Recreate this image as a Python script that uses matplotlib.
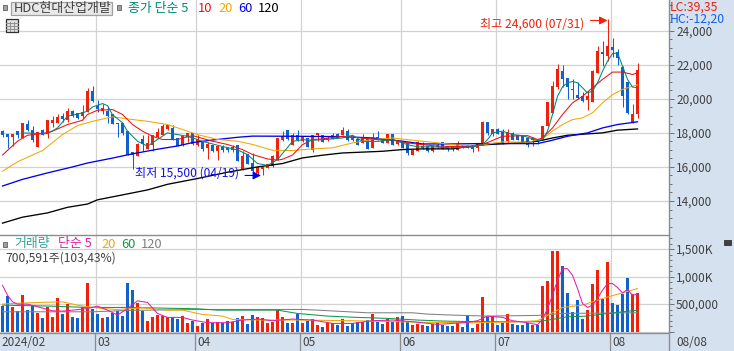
import matplotlib
matplotlib.use('Agg')
import matplotlib.pyplot as plt
from matplotlib.lines import Line2D
from matplotlib.patches import Rectangle
from matplotlib.ticker import MultipleLocator
import numpy as np

plt.rcParams['font.family'] = ['Noto Sans CJK KR', 'DejaVu Sans']

W, H = 734, 351

opens = [18060, 17900, 17750, 18060, 17690, 18470, 18150, 17160, 18150, 17960,
         18600, 18590, 18980, 18780, 19250, 19130, 19000, 19200, 20460, 19560,
         19300, 19250, 19110, 18580, 18530, 18060, 16870, 16630, 17610, 17060,
         17260, 17770, 17900, 18200, 18290, 17690, 17270, 17770, 17940, 17270,
         17450, 17120, 17260, 16910, 17140, 17100, 17000, 17260, 15890, 16710,
         16230, 15650, 15850, 15940, 16080, 16430, 17610, 18140, 17310, 17840,
         17510, 17700, 17000, 17900, 17860, 17570, 17650, 17920, 17900, 18100,
         17700, 17600, 17410, 17670, 17120, 17750, 17670, 17410, 17900, 17370,
         17470, 17370, 16730, 16960, 17120, 17180, 16920, 17260, 17410, 17180,
         17180, 17020, 17260, 17260, 17180, 17120, 17310, 18590, 17960, 18200,
         18000, 17510, 17940, 17840, 17800, 17650, 17610, 17570, 17610, 18390,
         19180, 20700, 21620, 21180, 20550, 20220, 20160, 19960, 19820, 21530,
         22740, 22510, 23000, 22700, 21820, 20940, 18590, 19120]
closes = [17900, 17750, 17900, 17900, 18580, 18150, 17570, 18040, 17900, 18720,
          18720, 18900, 18800, 19250, 19000, 18880, 19200, 20440, 19880, 19400,
          19440, 18970, 18500, 18500, 18000, 16730, 16730, 17350, 17320, 17400,
          17840, 18000, 18350, 18450, 17610, 17220, 17800, 17940, 17350, 17600,
          17060, 17340, 16930, 17200, 17000, 17000, 17120, 16340, 16640, 16180,
          15760, 15950, 16000, 16140, 16630, 17650, 17800, 17650, 17840, 17570,
          17760, 17180, 17840, 17960, 17470, 17700, 17840, 17700, 18160, 17600,
          17600, 17310, 17700, 17080, 17700, 17600, 17410, 17900, 17310, 17570,
          17120, 16820, 16960, 17410, 17180, 16920, 17220, 17180, 17060, 17080,
          17080, 17310, 17120, 17120, 17060, 17350, 18630, 18000, 18200, 17960,
          17370, 18000, 17610, 17610, 17450, 17310, 17700, 17450, 18390, 19800,
          20740, 21720, 21180, 20700, 20510, 20060, 19900, 20120, 21620, 22800,
          22660, 23060, 22860, 22370, 20160, 19140, 19080, 21670]
highs = [18140, 17940, 17940, 18100, 18600, 18740, 18430, 18040, 18200, 18720,
         18980, 19110, 19190, 19480, 19370, 19150, 19640, 20620, 20770, 19950,
         19680, 19560, 19110, 18580, 18600, 18060, 16870, 17410, 17900, 17900,
         17840, 18290, 18550, 18490, 18490, 17700, 17900, 18000, 18000, 17900,
         17550, 17450, 17300, 17260, 17260, 17160, 17260, 17300, 16930, 16730,
         16800, 16000, 16000, 16150, 16700, 17650, 18100, 18140, 18000, 18140,
         17840, 17720, 17840, 18000, 17900, 17800, 18000, 18000, 18330, 18200,
         17900, 17620, 17960, 17700, 18000, 18100, 17700, 17930, 17910, 17610,
         17480, 17380, 17000, 17500, 17470, 17200, 17310, 17410, 17420, 17220,
         17220, 17510, 17310, 17300, 17200, 17400, 18720, 18600, 18210, 18290,
         18200, 18250, 18050, 17860, 17820, 17660, 17740, 17590, 18400, 19800,
         21040, 22020, 21960, 21200, 21140, 21000, 20390, 20450, 21720, 23100,
         23390, 24660, 23550, 22900, 21900, 20960, 19670, 22120]
lows = [17770, 17120, 17220, 17670, 17690, 18100, 17450, 17160, 17880, 17690,
        18330, 18590, 18620, 18620, 18950, 18790, 18900, 19200, 19820, 19250,
        19100, 18600, 18500, 17750, 17900, 16730, 15900, 16630, 16960, 17030,
        16960, 17700, 17900, 18180, 17610, 17220, 17220, 17450, 17300, 17220,
        16960, 16440, 16900, 16380, 16870, 16870, 16900, 16340, 15800, 16150,
        15650, 15500, 15520, 15920, 16000, 16430, 17500, 17600, 17310, 17500,
        17480, 17180, 16900, 17500, 17440, 17500, 17620, 17680, 17880, 17500,
        17500, 17290, 17400, 17060, 17100, 17580, 17390, 17390, 17300, 17310,
        17100, 16690, 16700, 16950, 17060, 16900, 16900, 17120, 17040, 16920,
        16950, 17000, 17100, 17100, 16900, 16920, 17300, 17900, 17800, 17950,
        17350, 17410, 17600, 17600, 17440, 17160, 17220, 17370, 17600, 18380,
        19180, 20590, 20700, 20000, 20000, 20000, 19800, 19370, 19800, 21500,
        21900, 22200, 22470, 22000, 19510, 19120, 18590, 18880]
volumes = [463, 644, 445, 373, 662, 391, 463, 337, 247, 445,
           265, 608, 319, 500, 265, 247, 440, 879, 409, 319,
           247, 265, 337, 373, 283, 879, 752, 518, 373, 193,
           265, 301, 289, 259, 271, 229, 283, 157, 193, 102,
           157, 229, 157, 175, 157, 193, 169, 241, 283, 138,
           301, 259, 241, 163, 181, 391, 259, 157, 157, 319,
           157, 199, 229, 120, 84, 150, 150, 114, 229, 102,
           150, 175, 169, 211, 319, 169, 138, 229, 169, 259,
           283, 181, 120, 138, 120, 102, 138, 169, 120, 102,
           102, 150, 90, 283, 72, 138, 632, 271, 271, 120,
           163, 319, 138, 120, 120, 163, 120, 120, 825, 915,
           1457, 1457, 1186, 704, 349, 572, 229, 391, 861, 1114,
           602, 1258, 518, 482, 692, 969, 680, 700.591]

ma5_x = [4, 9, 11, 13, 15, 17, 18, 20, 21, 22, 24, 25, 27, 29, 31, 33, 35, 37, 40, 44, 47, 49, 51, 53, 55,
         58, 60, 62, 64, 66, 68, 70, 72, 75, 78, 81, 83, 86, 90, 94, 96, 97, 98, 100, 102, 104, 107, 108,
         109, 110, 111, 112, 113, 114, 115, 116, 117, 118, 119, 120, 121, 122, 123, 124, 125, 126, 127]
ma5_y = [18000, 17950, 18290, 18980, 19100, 19270, 19520, 19720, 19600, 19070, 18590, 18100, 17510, 17220,
         17610, 18000, 17900, 17800, 17500, 17200, 17000, 16730, 16200, 16090, 16430,
         17500, 17600, 17570, 17600, 17650, 17700, 17860, 17500, 17500, 17600, 17310, 17180, 17180, 17120,
         17180, 17310, 17600, 18000, 18100, 17900, 17840, 17550, 17600,
         18100, 19080, 20150, 20700, 20940, 21020, 20940, 20650, 20350, 20450, 20940, 21620, 22210, 22650,
         22700, 21920, 21140, 20690, 20650]
ma10_x = [0, 3, 5, 8, 10, 13, 16, 17, 19, 22, 24, 26, 28, 30, 32, 35, 38, 42, 45, 48, 50, 53, 55, 56, 58,
          60, 62, 64, 68, 72, 75, 78, 81, 84, 87, 94, 96, 100, 105, 107, 108, 110, 112, 114, 116, 118, 120,
          122, 124, 126, 127]
ma10_y = [16700, 17510, 17860, 17960, 18100, 18490, 18740, 19080, 19330, 19370, 19080, 18490, 18100, 17800,
          17610, 17610, 17840, 17510, 17320, 17020, 16730, 16470, 16400, 16450, 16700,
          17310, 17600, 17650, 17800, 17700, 17600, 17600, 17410, 17310, 17220, 17180, 17310, 17800, 17840,
          17610, 17700, 18290, 19080, 19760, 20150, 20650, 21140, 21570, 21570, 21430, 21530]
ma20_x = [0, 3, 6, 8, 12, 15, 18, 22, 25, 29, 33, 36, 39, 43, 47, 50, 54, 58, 62, 66, 70, 74, 78, 82, 86,
          90, 94, 100, 105, 108, 110, 112, 114, 116, 118, 120, 122, 124, 126, 127]
ma20_y = [15750, 16300, 16700, 16960, 17900, 18430, 18680, 18940, 18820, 18680, 18490, 18200, 17900, 17610,
          17510, 17320, 16980, 16960, 17060, 17120, 17410, 17610, 17700, 17570, 17450, 17310, 17220, 17470,
          17450, 17650, 18100, 18490, 18780, 18880, 19180, 19760, 20250, 20550, 20740, 20820]
ma60_x = [0, 4, 9, 14, 17, 22, 26, 31, 35, 38, 42, 47, 50, 59, 68, 74, 80, 84, 90, 95, 103, 107, 110, 113, 117,
          120, 123, 127]
ma60_y = [14880, 15270, 15650, 16000, 16230, 16520, 16770, 17040, 17230, 17430, 17580, 17740, 17810, 17800,
          17780, 17700, 17510, 17350, 17350, 17370, 17370, 17370, 17570, 17800, 18000, 18290, 18490, 18650]
ma120_x = [0, 4, 9, 13, 17, 19, 23, 29, 33, 39, 45, 51, 56, 60, 64, 68, 76, 80, 84, 90, 95, 103, 107, 110, 113,
           117, 120, 123, 127]
ma120_y = [12700, 13050, 13300, 13630, 13820, 14070, 14300, 14650, 14980, 15320, 15690, 16000, 16200, 16530,
           16690, 16820, 16920, 17020, 17060, 17060, 17280, 17410, 17510, 17700, 17860, 17940, 18000, 18160, 18230]

vma5_x = [0, 1, 2, 3, 5, 7, 10, 12, 14, 17, 19, 21, 23, 25, 27, 29, 31, 33, 36, 38, 41, 45, 48, 51, 54, 58,
          62, 66, 70, 74, 78, 82, 87, 90, 93, 95, 97, 100, 102, 105, 107, 108, 109, 110, 111, 112, 113, 114,
          115, 116, 117, 118, 119, 120, 121, 122, 123, 124, 125, 126, 127]
vma5_y = [843, 662, 542, 500, 500, 452, 379, 373, 391, 421, 463, 391, 301, 421, 560, 530, 331, 259, 259, 211,
          163, 163, 211, 229, 199, 229, 211, 150, 150, 199, 211, 181, 132, 150, 169, 199, 283, 259, 199, 163,
          126, 223, 421, 662, 933, 1144, 1144, 1023, 783, 512, 439, 482, 602, 753, 873, 873, 801, 704, 765,
          662, 680]
vma20_x = [0, 2, 7, 12, 15, 17, 20, 23, 28, 33, 36, 40, 44, 46, 52, 59, 70, 85, 94, 102, 107, 110, 112, 116, 120, 123, 127]
vma20_y = [500, 512, 530, 542, 482, 452, 421, 403, 433, 391, 391, 313, 283, 223, 211, 211, 199, 169, 163, 175,
           199, 343, 439, 482, 602, 680, 783]
vma60_x = [0, 10, 17, 25, 39, 43, 55, 59, 65, 71, 77, 83, 88, 95, 102, 107, 110, 113, 117, 120, 123, 127]
vma60_y = [482, 463, 440, 440, 415, 391, 391, 331, 283, 259, 241, 211, 193, 181, 181, 181, 223, 271, 283, 319, 349, 391]
vma120_x = [0, 18, 25, 39, 60, 63, 68, 73, 82, 85, 90, 97, 107, 112, 127]
vma120_y = [361, 361, 385, 403, 403, 391, 367, 343, 343, 319, 301, 283, 295, 331, 343]

month_idx = [0, 19, 39, 60, 80, 99, 122]
month_labels = ['2024/02', '03', '04', '05', '06', '07', '08']
price_ticks = [14000, 16000, 18000, 20000, 22000, 24000]
vol_ticks = [500, 1000, 1500]
vol_tick_labels = ['500,000', '1,000K', '1,500K']

RED = '#F0200A'
BLUE = '#1060D0'
BG = '#D6E1F0'
GRID = '#D2D2D2'
LINE = '#8C8C8C'
TXT = '#404040'


def px_axes(fig, x0, y0, x1, y1):
    return fig.add_axes([x0 / W, 1 - y1 / H, (x1 - x0) / W, (y1 - y0) / H])


def put(fig, x, y, s, color, size=8.5, **kw):
    return fig.text(x / W, 1 - y / H, s, color=color, fontsize=size, va='center', ha='left', **kw)


def hline(fig, x0, x1, y, color, lw=1.0):
    fig.add_artist(Line2D([x0 / W, x1 / W], [1 - y / H, 1 - y / H], color=color, lw=lw))


def vline(fig, x, y0, y1, color, lw=1.0):
    fig.add_artist(Line2D([x / W, x / W], [1 - y0 / H, 1 - y1 / H], color=color, lw=lw))


def box(fig, x0, y0, x1, y1, face, edge, lw=0.7):
    fig.add_artist(Rectangle((x0 / W, 1 - y1 / H), (x1 - x0) / W, (y1 - y0) / H, transform=fig.transFigure,
                             facecolor=face, edgecolor=edge, lw=lw))


fig = plt.figure(figsize=(W / 100, H / 100), dpi=100, facecolor=BG)

x = np.arange(len(opens))
o = np.array(opens)
c = np.array(closes)
colors = [RED if c[i] >= o[i] else BLUE for i in x]
xlim = (-0.5, 133.3)

ax = px_axes(fig, 0, 0, 669, 235)
ax.set_xlim(xlim)
ax.set_ylim(12003, 25803)
ax.set_yticks(price_ticks)
ax.set_yticklabels(['{:,}'.format(t) for t in price_ticks])
ax.yaxis.set_minor_locator(MultipleLocator(500))

ax2 = px_axes(fig, 0, 235, 669, 333)
ax2.set_xlim(xlim)
ax2.set_ylim(-24, 1755)
ax2.set_yticks([0] + vol_ticks)
ax2.set_yticklabels([''] + vol_tick_labels)
ax2.yaxis.set_minor_locator(MultipleLocator(100))

for a in (ax, ax2):
    a.set_xticks([m - 0.4 for m in month_idx[1:]])
    a.set_xticklabels([])
    a.tick_params(axis='x', length=0)
    a.yaxis.tick_right()
    a.tick_params(axis='y', which='major', length=3.6, width=0.7, color='#707070', labelcolor=TXT,
                  labelsize=8.5, pad=1.5)
    a.tick_params(axis='y', which='minor', length=2.2, width=0.7, color='#707070')
    a.grid(True, which='major', color=GRID, lw=0.9)
    a.set_axisbelow(True)
    for s in a.spines.values():
        s.set_visible(False)

ax.vlines(x, lows, highs, colors=colors, lw=0.75, zorder=2)
ax.bar(x, np.abs(c - o) + 25, bottom=np.minimum(o, c), width=0.7, color=colors, lw=0, zorder=3)
ax.plot(ma120_x, ma120_y, color='black', lw=0.95, zorder=4)
ax.plot(ma60_x, ma60_y, color='#0000F0', lw=0.95, zorder=4)
ax.plot(ma20_x, ma20_y, color='#F0A800', lw=0.75, zorder=5)
ax.plot(ma10_x, ma10_y, color='#F01010', lw=0.75, zorder=5)
ax.plot(ma5_x, ma5_y, color='#008878', lw=0.75, zorder=6)

ax2.bar(x, volumes, width=0.62, color=colors, lw=0, zorder=3)
ax2.plot(vma120_x, vma120_y, color='#808080', lw=0.75, zorder=4)
ax2.plot(vma60_x, vma60_y, color='#109848', lw=0.75, zorder=4)
ax2.plot(vma20_x, vma20_y, color='#F0A800', lw=0.75, zorder=5)
ax2.plot(vma5_x, vma5_y, color='#E020A8', lw=0.75, zorder=6)

# 하단 날짜 띠
ax3 = px_axes(fig, 0, 333, 734, 351)
ax3.axis('off')
ax3.set_xlim(-0.5, -0.5 + 734 / 5)
ax3.set_ylim(0, 1)
ax3.vlines([m - 0.4 for m in month_idx[1:]], 0, 1, color=LINE, lw=0.9)
for m, lab in zip(month_idx, month_labels):
    ax3.text(m - 0.1 if m else -0.2, 0.5, lab, color=TXT, fontsize=8.5, va='center', ha='left')
ax3.text(134.7, 0.5, '08/08', color=TXT, fontsize=8.5, va='center', ha='left')

hline(fig, 0, 669, 235, LINE)
hline(fig, 0, 669, 333, LINE)
vline(fig, 669, 0, 351, LINE)

# 고가 저가 표시
ax.annotate('', xy=(121, 24600), xytext=(117.6, 24600),
            arrowprops=dict(arrowstyle='-|>', color=RED, lw=0.8, mutation_scale=12, shrinkA=0, shrinkB=0))
ax.annotate('', xy=(51.7, 15500), xytext=(48.5, 15500),
            arrowprops=dict(arrowstyle='-|>', color='#0000F0', lw=0.8, mutation_scale=12, shrinkA=0, shrinkB=0))
put(fig, 480, 24, '최고 24,600 (07/31)', RED, size=8.7)
put(fig, 135, 173, '최저 15,500 (04/19)', '#1010E0', size=8.7)

# 범례
box(fig, 3, 5, 7, 10, '#A0A0A0', '#707070')
box(fig, 10.5, 2, 112, 15, '#E8E8E8', '#A0A0A0', lw=0.9)
put(fig, 14, 8.5, 'HDC현대산업개발', TXT, size=9.3)
box(fig, 117, 5, 121, 10, '#A0A0A0', '#707070')
put(fig, 128, 8.5, '종가 단순 5', '#008878', size=9.3)
put(fig, 198, 8.5, '10', '#F01010', size=9.3)
put(fig, 218, 8.5, '20', '#F0A800', size=9.3)
put(fig, 238, 8.5, '60', '#0000F0', size=9.3)
put(fig, 258, 8.5, '120', 'black', size=9.3)
box(fig, 5.5, 19.5, 18, 32, '#E0E0E0', '#303030', lw=0.9)
for gx in (9.5, 13.5):
    vline(fig, gx, 22, 31, '#909090', lw=0.7)
for gy in (23, 26, 29):
    hline(fig, 6, 17.5, gy, '#909090', lw=0.7)

box(fig, 3, 242, 7, 247, '#A0A0A0', '#707070')
put(fig, 14, 244, '거래량', '#38A098', size=9.3)
put(fig, 58, 244, '단순 5', '#E020A8', size=9.3)
put(fig, 101, 244, '20', '#F0A800', size=9.3)
put(fig, 121, 244, '60', '#109848', size=9.3)
put(fig, 141, 244, '120', '#808080', size=9.3)
put(fig, 5, 258, '700,591주(103,43%)', TXT, size=8.7)

put(fig, 670, 7, 'LC:39,35', RED, size=8.8)
put(fig, 670, 19, 'HC:-12,20', '#1060F0', size=8.8)
box(fig, 724, 239.5, 731, 245, '#404040', '#404040')

fig.savefig('out.png', dpi=100, facecolor=BG)
